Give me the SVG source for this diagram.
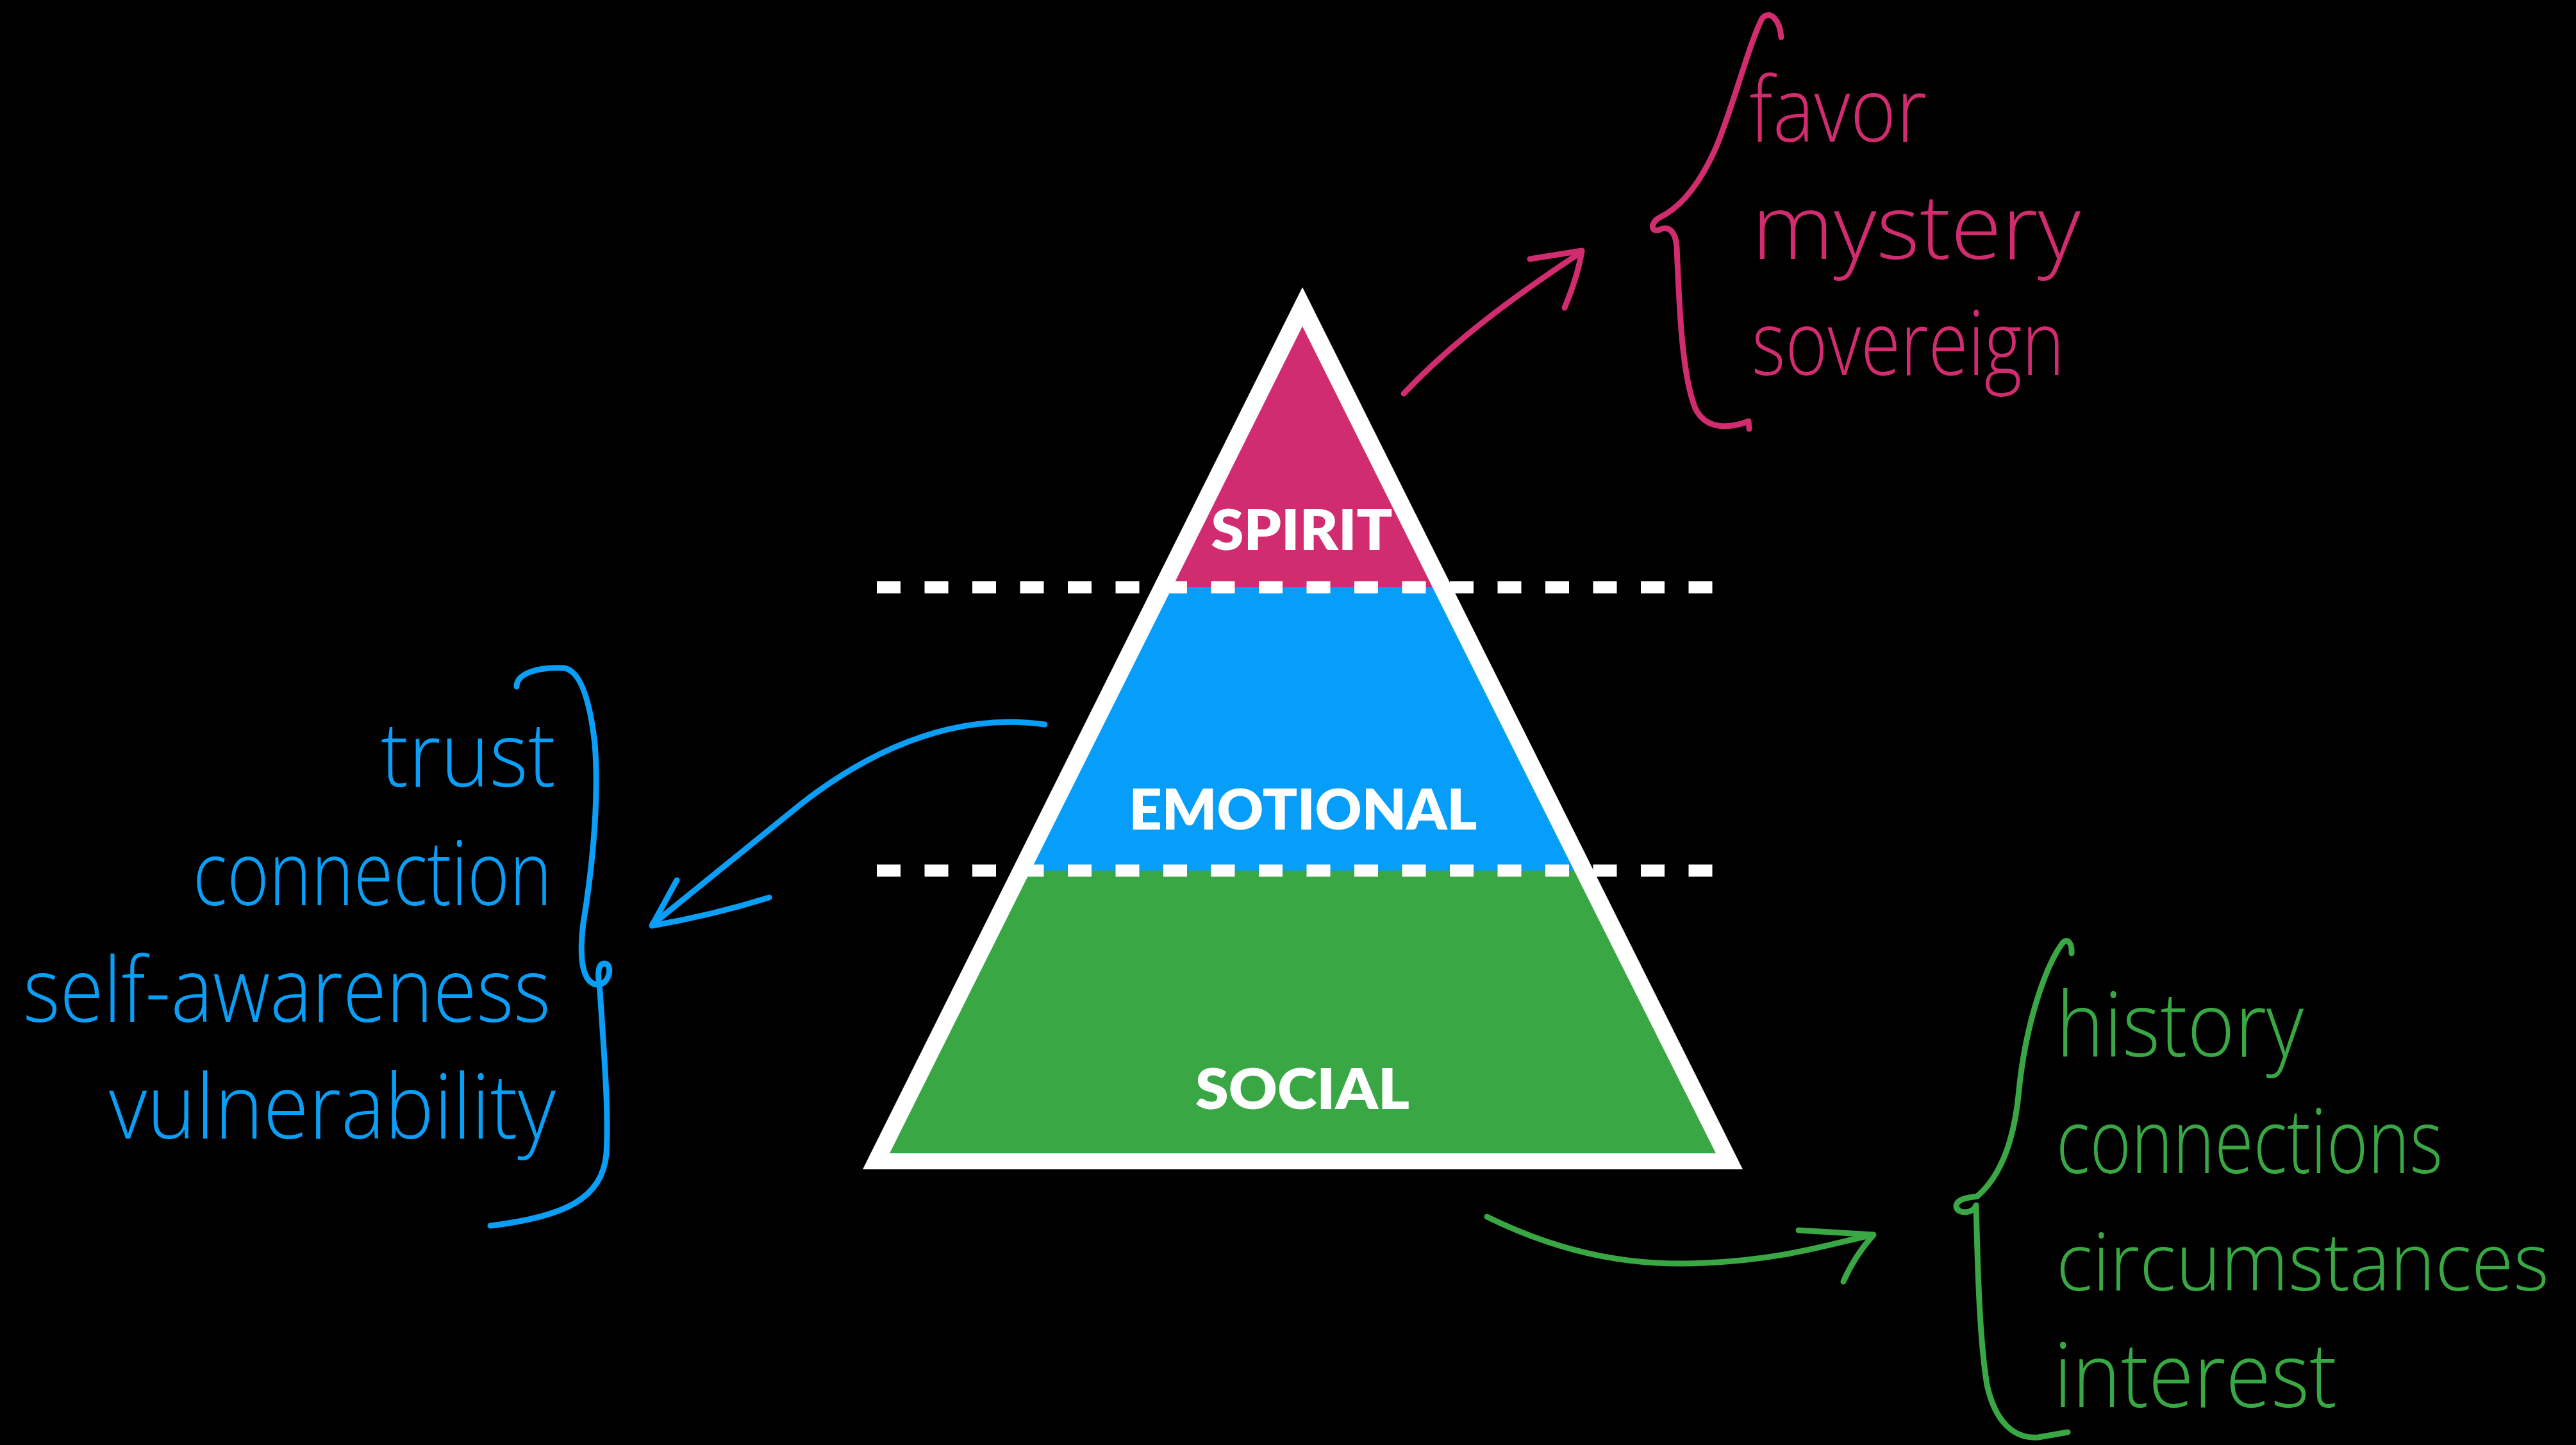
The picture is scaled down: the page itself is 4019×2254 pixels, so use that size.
<svg xmlns="http://www.w3.org/2000/svg" width="4019" height="2254" viewBox="0 0 4019 2254">
<style>
.lvl{font-family:Lato,"Liberation Sans",sans-serif;font-weight:800;font-size:88px;fill:#ffffff;text-anchor:middle}
.hw{font-family:"Open Sans",Lato,"Liberation Sans",sans-serif;font-weight:300;font-size:140px}
.pk{fill:#d02c6f}.bl{fill:#0a9ef7}.gr{fill:#3aa745}
.ln{fill:none;stroke-width:9;stroke-linecap:round;stroke-linejoin:round}
.spk{stroke:#d02c6f}.sbl{stroke:#0a9ef7}.sgr{stroke:#3aa745}
.dash{stroke:#ffffff;stroke-width:19;stroke-dasharray:37 37.5;fill:none}
</style>
<rect x="0" y="0" width="4019" height="2254" fill="#000000"/>
<g id="pyramid">
<polygon points="2032,448 1346,1824 2719,1824" fill="#ffffff"/>
<g id="spirit">
<polygon points="2032,509 1829,916 2235,916" fill="#d02c6f"/>
<text class="lvl" x="2031" y="858" textLength="283" lengthAdjust="spacingAndGlyphs">SPIRIT</text>
</g>
<g id="emotional">
<polygon points="1829,916 2235,916 2456,1358 1608,1358" fill="#069ef9"/>
<text class="lvl" x="2033" y="1294" textLength="543" lengthAdjust="spacingAndGlyphs">EMOTIONAL</text>
</g>
<g id="social">
<polygon points="1608,1358 2456,1358 2677,1799 1388,1799" fill="#3aa745"/>
<text class="lvl" x="2032" y="1730" textLength="334" lengthAdjust="spacingAndGlyphs">SOCIAL</text>
</g>
<line class="dash" x1="1368" y1="916" x2="2674" y2="916"/>
<line class="dash" x1="1368" y1="1358" x2="2674" y2="1358"/>
</g>
<g id="spirit-notes">
<text class="hw pk" x="2729" y="221" textLength="277" lengthAdjust="spacingAndGlyphs">favor</text>
<text class="hw pk" x="2733" y="404" textLength="513" lengthAdjust="spacingAndGlyphs">mystery</text>
<text class="hw pk" x="2733" y="585" textLength="488" lengthAdjust="spacingAndGlyphs">sovereign</text>
</g>
<g id="emotional-notes">
<text class="hw bl" x="594" y="1227" textLength="273" lengthAdjust="spacingAndGlyphs">trust</text>
<text class="hw bl" x="301" y="1412" textLength="560" lengthAdjust="spacingAndGlyphs">connection</text>
<text class="hw bl" x="36" y="1594" textLength="823" lengthAdjust="spacingAndGlyphs">self-awareness</text>
<text class="hw bl" x="170" y="1776" textLength="697" lengthAdjust="spacingAndGlyphs">vulnerability</text>
</g>
<g id="social-notes">
<text class="hw gr" x="3208" y="1648" textLength="386" lengthAdjust="spacingAndGlyphs">history</text>
<text class="hw gr" x="3208" y="1830" textLength="603" lengthAdjust="spacingAndGlyphs">connections</text>
<text class="hw gr" x="3208" y="2013" style="font-size:126px" textLength="769" lengthAdjust="spacingAndGlyphs">circumstances</text>
<text class="hw gr" x="3204" y="2195" textLength="442" lengthAdjust="spacingAndGlyphs">interest</text>
</g>
<g id="connectors">
<path class="ln spk" d="M2779,58 C2777,32 2762,14 2749,29 C2728,70 2700,180 2675,235 C2650,290 2620,325 2588,340 C2574,348 2576,364 2590,358 C2603,352 2614,360 2616,385 C2620,480 2624,585 2645,637 C2662,672 2700,668 2728,657 L2729,669"/>
<path class="ln spk" d="M2190,614 C2260,540 2350,470 2466,394"/>
<path class="ln spk" d="M2387,404 L2468,391 Q2462,430 2441,480"/>
<path class="ln sbl" d="M806,1071 C806,1050 840,1040 880,1042 C905,1046 920,1090 928,1160 C936,1260 920,1380 910,1440 C902,1505 912,1534 932,1536 C952,1536 956,1504 944,1503 C932,1502 932,1520 936,1545 C942,1640 950,1730 946,1800 C940,1870 880,1898 765,1912"/>
<path class="ln sbl" d="M1630,1130 C1500,1112 1370,1160 1250,1254 L1018,1442"/>
<path class="ln sbl" d="M1056,1373 L1017,1444 Q1110,1428 1200,1400"/>
<path class="ln sgr" d="M3232,1487 C3233,1470 3225,1462 3217,1472 C3190,1510 3160,1600 3150,1700 C3142,1790 3115,1840 3085,1866 C3070,1868 3052,1870 3052,1882 C3054,1895 3080,1893 3083,1880 C3085,1950 3087,2080 3100,2160 C3112,2215 3140,2245 3180,2242 L3226,2234"/>
<path class="ln sgr" d="M2320,1898 C2450,1962 2560,1975 2660,1970 C2780,1965 2850,1942 2922,1926"/>
<path class="ln sgr" d="M2806,1919 L2923,1926 Q2893,1960 2876,1999"/>
</g>
</svg>
